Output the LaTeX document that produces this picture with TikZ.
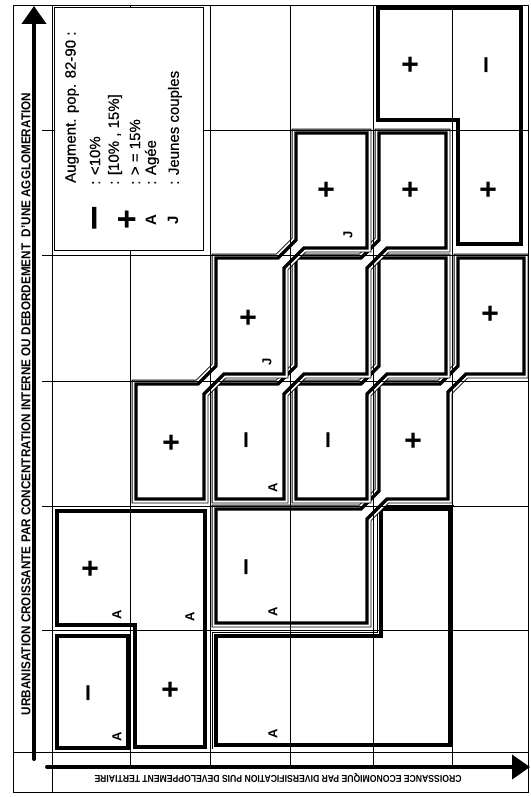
\documentclass[tikz,border=0pt]{standalone}
\usepackage{fontspec}
\setmainfont{Liberation Sans}
\newfontfamily\legendfont[FakeBold=0.6]{Liberation Sans}
\usetikzlibrary{arrows.meta}

\begin{document}
\begin{tikzpicture}[x=1pt,y=-1pt,
    grid line/.style={line width=0.6pt},
    zone/.style={line width=3.2pt, line join=miter},
    double zone/.style={preaction={draw, line width=8.6pt},
        preaction={draw=white, line width=7pt}, preaction={fill=white}, zone},
    axis arrow/.style={line width=4pt, line cap=round, -{Triangle[length=18pt,width=24pt]}},
    sign/.style={font=\bfseries\fontsize{30}{30}\selectfont, rotate=90, inner sep=0pt},
    tag/.style={font=\bfseries\fontsize{13}{13}\selectfont, rotate=90, inner sep=0pt},
    legend text/.style={font=\legendfont\fontsize{15}{15}\selectfont, rotate=90, anchor=west, inner sep=0pt}
]
\useasboundingbox (0,0) rectangle (530,797);

% zones
\draw[zone] (378,8) -- (521,8) -- (521,244) -- (458,244) -- (458,120) -- (378,120) -- cycle;
\draw[zone] (57,511) -- (205,511) -- (205,747) -- (135,747) -- (135,625) -- (57,625) -- cycle;
\draw[zone] (57,636) rectangle (128,748);
\draw[double zone] (216,636) -- (381,636) -- (381,509) -- (450,509) -- (450,745) -- (216,745) -- cycle;
\draw[double zone] (216,623) -- (216,509) -- (361,509) -- (379,491) -- (379,384) -- (440,384)
    -- (458,366) -- (458,258) -- (524,258) -- (524,374) -- (466,374) -- (448,392) -- (448,499)
    -- (387,499) -- (367,519) -- (367,623) -- cycle;
\draw[double zone] (296,499) -- (296,384) -- (361,384) -- (379,366) -- (379,258) -- (446,258)
    -- (446,374) -- (387,374) -- (367,394) -- (367,499) -- cycle;
\draw[double zone] (216,499) -- (216,384) -- (278,384) -- (296,366) -- (296,258) -- (361,258)
    -- (379,240) -- (379,133) -- (446,133) -- (446,248) -- (387,248) -- (367,268) -- (367,374)
    -- (304,374) -- (284,394) -- (284,499) -- cycle;
\draw[double zone] (136,499) -- (136,384) -- (198,384) -- (216,366) -- (216,258) -- (278,258)
    -- (296,240) -- (296,133) -- (367,133) -- (367,248) -- (304,248) -- (284,268) -- (284,374)
    -- (224,374) -- (204,394) -- (204,499) -- cycle;

% frame and grid
\draw[grid line] (13,5) rectangle (528,792);
\draw[grid line] (52,5) -- (52,792);
\draw[grid line] (13,752) -- (528,752);
\foreach \y in {130,255,381,506,630}
    \draw[grid line] (42,\y) -- (528,\y);
\foreach \x in {130,210,290,373,452}
    \draw[grid line] (\x,5) -- (\x,765);

% axes
\coordinate (yfoot) at (34,759);
\coordinate (ytip) at (34,6);
\coordinate (xfoot) at (47,767);
\coordinate (xtip) at (530,767);
\draw[axis arrow] (yfoot) -- (ytip);
\draw[axis arrow] (xfoot) -- (xtip);
\node[rotate=90] (ylabel) at (26,404)
    {\resizebox{622pt}{9pt}{\bfseries URBANISATION CROISSANTE PAR CONCENTRATION INTERNE OU DEBORDEMENT\ \ D'UNE AGGLOMERATION}};
\node[rotate=180] (xlabel) at (278,778)
    {\resizebox{367pt}{7pt}{\bfseries CROISSANCE ECONOMIQUE PAR DIVERSIFICATION PUIS DEVELOPPEMENT TERTIAIRE}};

% legend
\draw[grid line, fill=white] (54,7) rectangle (203,250);
\node[legend text] (title) at (72,183) {Augment. pop. 82-90 :};
\node[legend text] (lowtxt) at (95,185) {: <10\%};
\node[legend text] (midtxt) at (115,185) {: [10\% , 15\%]};
\node[legend text] (hightxt) at (135,185) {: > = 15\%};
\node[legend text] (oldtxt) at (152,185) {: Agée};
\node[legend text] (youngtxt) at (175,185) {: Jeunes couples};
\node[sign, font=\bfseries\fontsize{44}{44}\selectfont] (lowsym) at (100,218) {\textendash};
\node[sign, font=\bfseries\fontsize{34}{34}\selectfont] (midsym) at (129,220) {+};
\node[tag, font=\bfseries\fontsize{15}{15}\selectfont] (oldsym) at (151,220) {A};
\node[tag, font=\bfseries\fontsize{15}{15}\selectfont] (youngsym) at (173,220) {J};

% cell contents
\node[sign] (r1c5) at (412,65) {+};
\node[sign] (r1c6) at (490,65) {\textendash};
\node[sign] (r2c4) at (328,190) {+};
\node[tag] (r2c4j) at (348,235) {J};
\node[sign] (r2c5) at (412,190) {+};
\node[sign] (r2c6) at (490,190) {+};
\node[sign] (r3c3) at (250,318) {+};
\node[tag] (r3c3j) at (267,362) {J};
\node[sign] (r3c6) at (492,314) {+};
\node[sign] (r4c2) at (173,443) {+};
\node[sign] (r4c3) at (250,440) {\textendash};
\node[tag] (r4c3a) at (273,488) {A};
\node[sign] (r4c4) at (332,440) {\textendash};
\node[sign] (r4c5) at (415,441) {+};
\node[sign] (r5c1) at (92,569) {+};
\node[tag] (r5c1a) at (117,615) {A};
\node[tag] (r5c2a) at (190,617) {A};
\node[sign] (r5c3) at (250,567) {\textendash};
\node[tag] (r5c3a) at (273,612) {A};
\node[sign] (r6c1) at (92,693) {\textendash};
\node[tag] (r6c1a) at (117,737) {A};
\node[sign] (r6c2) at (172,690) {+};
\node[tag] (r6c3a) at (273,734) {A};
\end{tikzpicture}
\end{document}
